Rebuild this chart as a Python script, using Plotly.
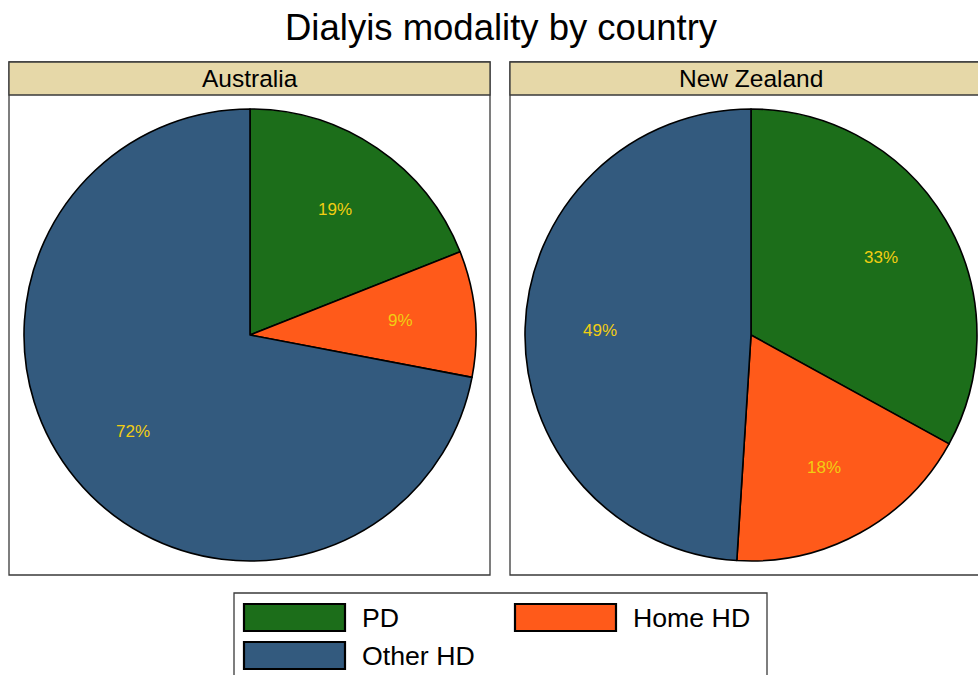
import math
import plotly.graph_objects as go

# Dialysis modality shares (%) by country
countries = ["Australia", "New Zealand"]
modalities = ["PD", "Home HD", "Other HD"]
australia_pct = [19, 9, 72]
new_zealand_pct = [33, 18, 49]
modality_colors = ["#1C6E1A", "#FF5A1A", "#335A7E"]

W, H = 978, 675
FONT = "Liberation Sans, Arial, sans-serif"
LABEL_GOLD = "#F2CE12"
STRIP_FILL = "#E6D8A8"
FRAME = "#3A3A3A"


def px_x(v):
    return v / W


def px_y(v):
    return 1 - v / H


fig = go.Figure()

# one pie per panel, square domains so both have the same radius
panel_left = [9, 510]
panel_width = 481
pie_cx = [250, 751]
pie_cy = 335
pie_r = 226
label_frac = 0.67  # slice labels sit at two thirds of the radius

shapes = []
annotations = []

for name, values, cx in zip(countries, [australia_pct, new_zealand_pct], pie_cx):
    fig.add_trace(go.Pie(
        labels=modalities,
        values=values,
        name=name,
        sort=False,
        direction="clockwise",
        rotation=0,
        domain=dict(x=[px_x(cx - pie_r), px_x(cx + pie_r)],
                    y=[px_y(pie_cy + pie_r), px_y(pie_cy - pie_r)]),
        marker=dict(colors=modality_colors, line=dict(color="black", width=1.6)),
        textposition="none",
        hoverinfo="label+value+name",
        showlegend=False,
    ))
    # percentage labels at each slice's mid-angle (clockwise from 12 o'clock)
    total = sum(values)
    cum = 0
    for v in values:
        mid = (cum + v / 2) / total * 2 * math.pi
        cum += v
        lx = cx + label_frac * pie_r * math.sin(mid)
        ly = pie_cy - label_frac * pie_r * math.cos(mid)
        annotations.append(dict(xref="paper", yref="paper", x=px_x(lx), y=px_y(ly),
                                text=f"{v}%", showarrow=False,
                                xanchor="center", yanchor="middle",
                                font=dict(family=FONT, size=17, color=LABEL_GOLD)))

# facet frames with header strips
for name, x0 in zip(countries, panel_left):
    x1 = x0 + panel_width
    shapes.append(dict(type="rect", xref="paper", yref="paper",
                       x0=px_x(x0), x1=px_x(x1), y0=px_y(575), y1=px_y(62),
                       line=dict(color=FRAME, width=1.3), fillcolor="rgba(0,0,0,0)",
                       layer="below"))
    shapes.append(dict(type="rect", xref="paper", yref="paper",
                       x0=px_x(x0), x1=px_x(x1), y0=px_y(95), y1=px_y(62),
                       line=dict(color=FRAME, width=1.3), fillcolor=STRIP_FILL))
    annotations.append(dict(xref="paper", yref="paper",
                            x=px_x((x0 + x1) / 2), y=px_y(78.5),
                            text=name, showarrow=False,
                            xanchor="center", yanchor="middle",
                            font=dict(family=FONT, size=24.5, color="black")))

# title
annotations.append(dict(xref="paper", yref="paper", x=px_x(501), y=px_y(28),
                        text="Dialyis modality by country", showarrow=False,
                        xanchor="center", yanchor="middle",
                        font=dict(family=FONT, size=36.5, color="black")))

# legend box with wide swatches
shapes.append(dict(type="rect", xref="paper", yref="paper",
                   x0=px_x(234), x1=px_x(767), y0=px_y(700), y1=px_y(593),
                   line=dict(color=FRAME, width=1.3), fillcolor="white"))
legend_slots = [(244, 604), (515, 604), (244, 642)]
for label, color, (sx, sy) in zip(modalities, modality_colors, legend_slots):
    shapes.append(dict(type="rect", xref="paper", yref="paper",
                       x0=px_x(sx), x1=px_x(sx + 101), y0=px_y(sy + 27), y1=px_y(sy),
                       line=dict(color="black", width=2.2), fillcolor=color))
    annotations.append(dict(xref="paper", yref="paper",
                            x=px_x(sx + 116), y=px_y(sy + 14),
                            text=label, showarrow=False,
                            xanchor="left", yanchor="middle",
                            font=dict(family=FONT, size=26.7, color="black")))

fig.update_layout(
    width=W, height=H,
    margin=dict(l=0, r=0, t=0, b=0),
    paper_bgcolor="white",
    plot_bgcolor="white",
    shapes=shapes,
    annotations=annotations,
    showlegend=False,
)

fig.write_html("out.html")
